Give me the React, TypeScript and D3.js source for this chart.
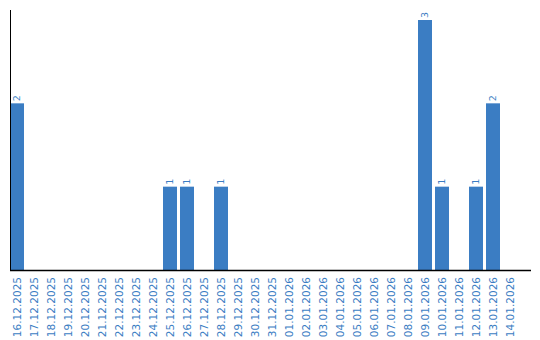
import React from "react";
import * as d3 from "d3";

const categories = [
  "16.12.2025", "17.12.2025", "18.12.2025", "19.12.2025", "20.12.2025",
  "21.12.2025", "22.12.2025", "23.12.2025", "24.12.2025", "25.12.2025",
  "26.12.2025", "27.12.2025", "28.12.2025", "29.12.2025", "30.12.2025",
  "31.12.2025", "01.01.2026", "02.01.2026", "03.01.2026", "04.01.2026",
  "05.01.2026", "06.01.2026", "07.01.2026", "08.01.2026", "09.01.2026",
  "10.01.2026", "11.01.2026", "12.01.2026", "13.01.2026", "14.01.2026",
];
const values = [
  2, 0, 0, 0, 0, 0, 0, 0, 0, 1,
  1, 0, 1, 0, 0, 0, 0, 0, 0, 0,
  0, 0, 0, 0, 3, 1, 0, 1, 2, 0,
];

const W = 540;
const H = 340;
const left = 10;
const baseY = 270;
const topY = 20;
const color = "#3b7dc3";
const font = "'DejaVu Sans', Verdana, sans-serif";

export default function App() {
  const x = d3
    .scaleBand<string>()
    .domain(categories)
    .range([left, left + 29 * 17 + 14])
    .paddingInner(3 / 17)
    .paddingOuter(0);
  const y = d3.scaleLinear().domain([0, 3]).range([baseY, topY]);
  const bw = x.bandwidth();

  return (
    <svg
      width={W}
      height={H}
      style={{ position: "absolute", left: 0, top: 0, background: "#fff" }}
    >
      {categories.map((c, i) =>
        values[i] > 0 ? (
          <g key={c}>
            <rect
              x={x(c)}
              y={y(values[i])}
              width={bw}
              height={baseY - y(values[i])}
              fill={color}
            />
            <text
              transform={`translate(${(x(c) as number) + bw / 2},${y(values[i]) - 2}) rotate(-90)`}
              textAnchor="start"
              dy="0.35em"
              fontSize={9.5}
              fontFamily={font}
              fill={color}
            >
              {values[i]}
            </text>
          </g>
        ) : null
      )}
      <line x1={left + 0.5} x2={left + 0.5} y1={10} y2={baseY} stroke="#000" strokeWidth={1} />
      <line x1={left} x2={531} y1={baseY + 0.5} y2={baseY + 0.5} stroke="#000" strokeWidth={1.5} />
      {categories.map((c) => (
        <text
          key={"l" + c}
          transform={`translate(${(x(c) as number) + bw / 2},${baseY + 7}) rotate(-90)`}
          textAnchor="end"
          dy="0.35em"
          fontSize={10.5}
          fontFamily={font}
          fill={color}
        >
          {c}
        </text>
      ))}
    </svg>
  );
}
